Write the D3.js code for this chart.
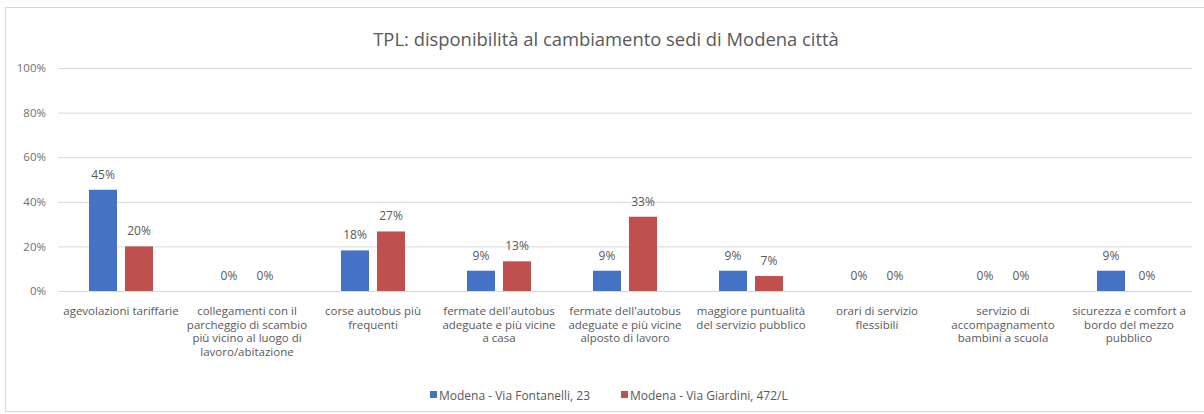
<!DOCTYPE html>
<html><head><meta charset="utf-8">
<script src="https://cdn.jsdelivr.net/npm/d3@7"></script>
<style>body{margin:0;background:#fff;} svg{display:block;font-family:"Open Sans","Noto Sans",sans-serif;}</style>
</head><body>
<svg id="c" width="1204" height="414"></svg>
<script>
const title = "TPL: disponibilità al cambiamento sedi di Modena città";
const categories = [
  ["agevolazioni tariffarie"],
  ["collegamenti con il","parcheggio di scambio","più vicino al luogo di","lavoro/abitazione"],
  ["corse autobus più","frequenti"],
  ["fermate dell'autobus","adeguate e più vicine","a casa"],
  ["fermate dell'autobus","adeguate e più vicine","alposto di lavoro"],
  ["maggiore puntualità","del servizio pubblico"],
  ["orari di servizio","flessibili"],
  ["servizio di","accompagnamento","bambini a scuola"],
  ["sicurezza e comfort a","bordo del mezzo","pubblico"]
];
const seriesNames = ["Modena - Via Fontanelli, 23", "Modena - Via Giardini, 472/L"];
const fontanelli = [45.4, 0, 18.2, 9.1, 9.1, 9.1, 0, 0, 9.1];
const giardini   = [20.0, 0, 26.7, 13.3, 33.3, 6.7, 0, 0, 0];
const yTicks = [0, 20, 40, 60, 80, 100];
const colors = ["#4472c4", "#c0504d"];

const svg = d3.select("#c");
const W = 1204, H = 414;
svg.append("rect").attr("x",5.5).attr("y",7.5).attr("width",1210).attr("height",404)
  .attr("fill","#fff").attr("stroke","#d9d9d9");

const m = {l:58, r:12, t:68, b:123};
const x0 = d3.scaleBand().domain(d3.range(categories.length)).range([m.l, W-m.r]).paddingInner(0.492).paddingOuter(0.246);
const x1 = d3.scaleBand().domain([0,1]).range([0, x0.bandwidth()]).paddingInner(0.222);
const y = d3.scaleLinear().domain([0,100]).range([H-m.b, m.t]);

svg.append("text").attr("x",606).attr("y",46).attr("text-anchor","middle")
  .attr("font-size",18.4).attr("fill","#595959").text(title);

const yAxis = d3.axisLeft(y).tickValues(yTicks).tickSize(-(W-m.r-m.l)).tickFormat(d=>d+"%").tickPadding(12);
const ga = svg.append("g").attr("transform",`translate(${m.l},0)`).call(yAxis);
ga.select(".domain").remove();
ga.selectAll(".tick line").attr("stroke","#d9d9d9").attr("stroke-width",1);
ga.selectAll(".tick text").attr("fill","#6f6f6f").attr("font-size",11.5).attr("font-family","Open Sans, sans-serif");

const data = [fontanelli, giardini];
categories.forEach((c,i)=>{
  const g = svg.append("g").attr("transform",`translate(${x0(i)},0)`);
  data.forEach((s,k)=>{
    const v = s[i];
    g.append("rect").attr("x",x1(k)).attr("width",x1.bandwidth())
      .attr("y",y(v)).attr("height",y(0)-y(v)).attr("fill",colors[k]);
    g.append("text").attr("x",x1(k)+x1.bandwidth()/2).attr("y",y(v)-11)
      .attr("text-anchor","middle").attr("font-size",12).attr("fill","#595959")
      .text(Math.round(v)+"%");
  });
  const t = svg.append("text").attr("text-anchor","middle").attr("font-size",11.5).attr("fill","#595959");
  c.forEach((line,j)=>{
    t.append("tspan").attr("x",x0(i)+x0.bandwidth()/2).attr("y",y(0)+24+j*13.6).text(line);
  });
});

const lg = svg.append("g");
const legX = [430, 621];
seriesNames.forEach((n,k)=>{
  lg.append("rect").attr("x",legX[k]).attr("y",391).attr("width",7).attr("height",7).attr("fill",colors[k]);
  lg.append("text").attr("x",legX[k]+9).attr("y",399.5).attr("font-size",12).attr("fill","#595959").text(n);
});
</script>
</body></html>
